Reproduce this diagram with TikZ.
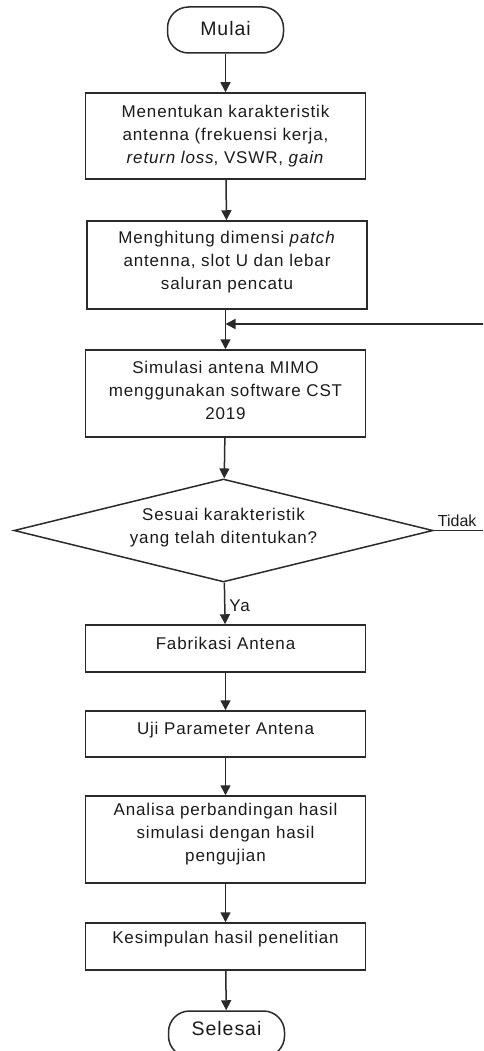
\documentclass[tikz,border=0pt]{standalone}
\usepackage{fontspec}
\setmainfont{Liberation Sans}
\newfontfamily\bxfont[LetterSpace=5]{Liberation Sans}
\usetikzlibrary{arrows.meta,shapes.geometric,calc}
\definecolor{ln}{HTML}{2A2A2A}
\definecolor{tx}{HTML}{1A1A1A}
\tikzset{
  every picture/.style={x=1pt,y=-1pt},
  box/.style={draw=ln,line width=1.5pt,minimum width=280pt,inner sep=0pt},
  term/.style={draw=ln,line width=1.5pt,rounded corners=21pt,minimum width=116pt,minimum height=46pt,inner sep=0pt},
  dec/.style={draw=ln,line width=1.5pt,diamond,minimum width=419pt,minimum height=103pt,inner sep=0pt,aspect=4},
  txt/.style={align=center,text=tx,font=\bxfont\fontsize{17}{23}\selectfont,inner sep=0pt},
  lbl/.style={text=tx,font=\bxfont\fontsize{17}{20}\selectfont,inner sep=0pt},
  arr/.style={draw=ln,line width=1.5pt,-{Triangle[width=10pt,length=10pt]}},
  ln/.style={draw=ln,line width=1.5pt}
}
\begin{document}
\begin{tikzpicture}
\useasboundingbox (0,0) rectangle (483,1051);
\clip (0,0) rectangle (483,1051);
\node[term] (m) at (225.5,30) {};
\node[txt,font=\bxfont\fontsize{19.5}{22}\selectfont] (mt) at ([yshift=1pt]m.center) {Mulai};
\node[box,minimum height=86pt] (b1) at (225.5,136) {};
\node[txt] (b1t) at ([yshift=0pt]b1.center) {Menentukan karakteristik\\antenna (frekuensi kerja,\\\textit{return loss}, VSWR, \textit{gain}};
\node[box,minimum height=88pt] (b2) at (227,265) {};
\node[txt] (b2t) at ([yshift=3pt]b2.center) {Menghitung dimensi \textit{patch}\\antenna, slot U dan lebar\\saluran pencatu};
\node[box,minimum height=87pt] (b3) at (225.5,393.5) {};
\node[txt] (b3t) at ([yshift=3pt]b3.center) {Simulasi antena MIMO\\menggunakan software CST\\2019};
\node[dec] (d) at (223.5,530.5) {};
\node[txt] (dt) at ([yshift=3pt]d.center) {Sesuai karakteristik\\yang telah ditentukan?};
\node[box,minimum height=47pt] (b4) at (225.5,648.5) {};
\node[txt] (b4t) at ([yshift=5pt]b4.center) {Fabrikasi Antena};
\node[box,minimum height=46pt] (b5) at (225.5,734) {};
\node[txt] (b5t) at ([yshift=4pt]b5.center) {Uji Parameter Antena};
\node[box,minimum height=87pt] (b6) at (225.5,839.5) {};
\node[txt] (b6t) at ([yshift=5pt]b6.center) {Analisa perbandingan hasil\\simulasi dengan hasil\\pengujian};
\node[box,minimum height=47pt] (b7) at (225.5,946.5) {};
\node[txt] (b7t) at ([yshift=7pt]b7.center) {Kesimpulan hasil penelitian};
\node[term] (s) at (226.5,1034) {};
\node[txt,font=\bxfont\fontsize{19.5}{22}\selectfont] (st) at ([yshift=5pt]s.center) {Selesai};

\coordinate (j) at (225.5,324);
\coordinate (r1) at (490,530.5);
\coordinate (r2) at (490,324);

\draw[arr] (m) -- (b1);
\draw[arr] (b1) -- (b2);
\draw[arr] (b2.south -| j) -- (b3.north -| j);
\draw[arr] (b3) -- (d);
\draw[arr] (d) -- node[lbl,anchor=west,xshift=4pt,yshift=-2pt] (ya) {Ya} (b4);
\draw[arr] (b4) -- (b5);
\draw[arr] (b5) -- (b6);
\draw[arr] (b6) -- (b7);
\draw[arr] (b7) -- (s);
\draw[ln] (d.east) -- (r1) -- (r2);
\draw[arr] (r2) -- (j);
\node[lbl,font=\fontsize{16}{19}\selectfont,anchor=south west] (td) at ([xshift=4pt,yshift=4pt]d.east) {Tidak};
\end{tikzpicture}
\end{document}
